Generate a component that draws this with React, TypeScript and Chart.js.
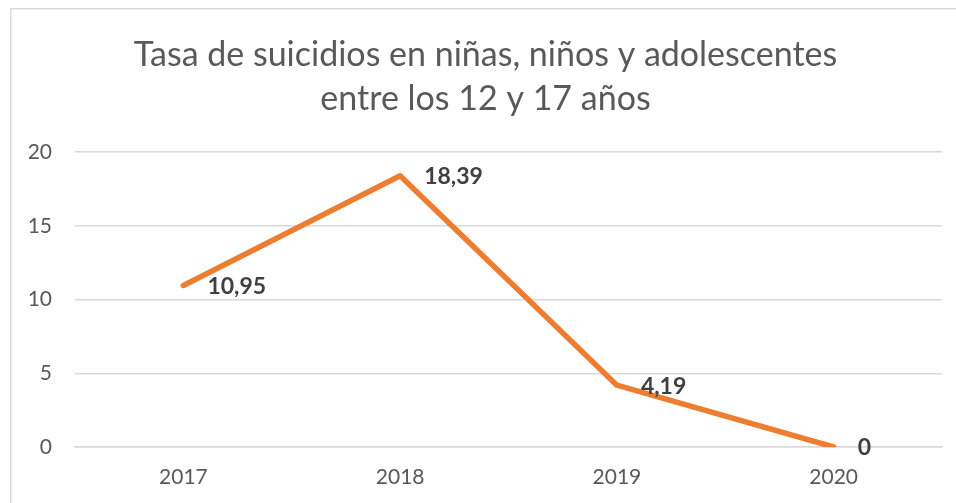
import React, { useEffect, useRef } from "react";
import { Chart, registerables } from "chart.js";

Chart.register(...registerables);

const categories: string[] = ["2017", "2018", "2019", "2020"];
const tasaValues: number[] = [10.95, 18.39, 4.19, 0];
const titleLines: string[] = [
  "Tasa de suicidios en niñas, niños y adolescentes",
  "entre los 12 y 17 años",
];
const yMin = 0;
const yMax = 20;
const yStep = 5;

const FONT = "Lato, 'Open Sans', sans-serif";

const borderPlugin = {
  id: "chartBorder",
  beforeDraw(chart: any) {
    const ctx = chart.ctx;
    ctx.save();
    ctx.fillStyle = "#ffffff";
    ctx.fillRect(0, 0, chart.width, chart.height);
    ctx.strokeStyle = "#d9d9d9";
    ctx.lineWidth = 1.5;
    ctx.beginPath();
    ctx.moveTo(0.75, chart.height);
    ctx.lineTo(0.75, 0.75);
    ctx.lineTo(chart.width, 0.75);
    ctx.stroke();
    ctx.restore();
  },
};

const dataLabelPlugin = {
  id: "pointLabels",
  afterDatasetsDraw(chart: any) {
    const ctx = chart.ctx;
    const meta = chart.getDatasetMeta(0);
    const values = chart.data.datasets[0].data as number[];
    ctx.save();
    ctx.font = `bold 23px ${FONT}`;
    ctx.fillStyle = "#404040";
    ctx.textAlign = "left";
    ctx.textBaseline = "middle";
    meta.data.forEach((pt: any, i: number) => {
      const txt = String(values[i]).replace(".", ",");
      ctx.fillText(txt, pt.x + 24, pt.y + 1);
    });
    ctx.restore();
  },
};

export default function App() {
  const canvasRef = useRef<HTMLCanvasElement | null>(null);

  useEffect(() => {
    document.body.style.overflow = "hidden";
    document.documentElement.style.overflow = "hidden";
    const canvas = canvasRef.current;
    if (!canvas) return;
    const chart = new Chart(canvas, {
      type: "line",
      data: {
        labels: categories,
        datasets: [
          {
            data: tasaValues,
            borderColor: "#ED7D31",
            backgroundColor: "#ED7D31",
            borderWidth: 5.5,
            borderCapStyle: "round",
            borderJoinStyle: "round",
            pointRadius: 0,
            pointHoverRadius: 0,
            tension: 0,
            fill: false,
          },
        ],
      },
      options: {
        responsive: false,
        animation: false,
        devicePixelRatio: 1,
        layout: {
          padding: { left: 19, right: 28, top: 0, bottom: 0 },
        },
        plugins: {
          legend: { display: false },
          tooltip: { enabled: false },
          title: {
            display: true,
            text: titleLines,
            color: "#595959",
            font: { family: FONT, size: 34, weight: "normal", lineHeight: 44 / 34 },
            padding: { top: 25.5, bottom: 30.5 },
          },
        },
        scales: {
          x: {
            offset: true,
            grid: { display: false, drawTicks: false },
            border: { display: true, color: "#d9d9d9", width: 1.5 },
            ticks: {
              color: "#595959",
              font: { family: FONT, size: 21 },
              padding: 18,
            },
            afterFit(scale: any) {
              scale.height = 56;
            },
          },
          y: {
            min: yMin,
            max: yMax,
            grid: { color: "#d9d9d9", lineWidth: 1.5, drawTicks: false },
            border: { display: false },
            ticks: {
              stepSize: yStep,
              color: "#595959",
              font: { family: FONT, size: 21 },
              padding: 23,
            },
            afterFit(scale: any) {
              scale.width = 46;
            },
          },
        },
      },
      plugins: [borderPlugin, dataLabelPlugin],
    });
    return () => chart.destroy();
  }, []);

  return (
    <div style={{ position: "absolute", left: 10, top: 8, width: 960, height: 495 }}>
      <canvas ref={canvasRef} width={960} height={495} style={{ display: "block" }} />
    </div>
  );
}
